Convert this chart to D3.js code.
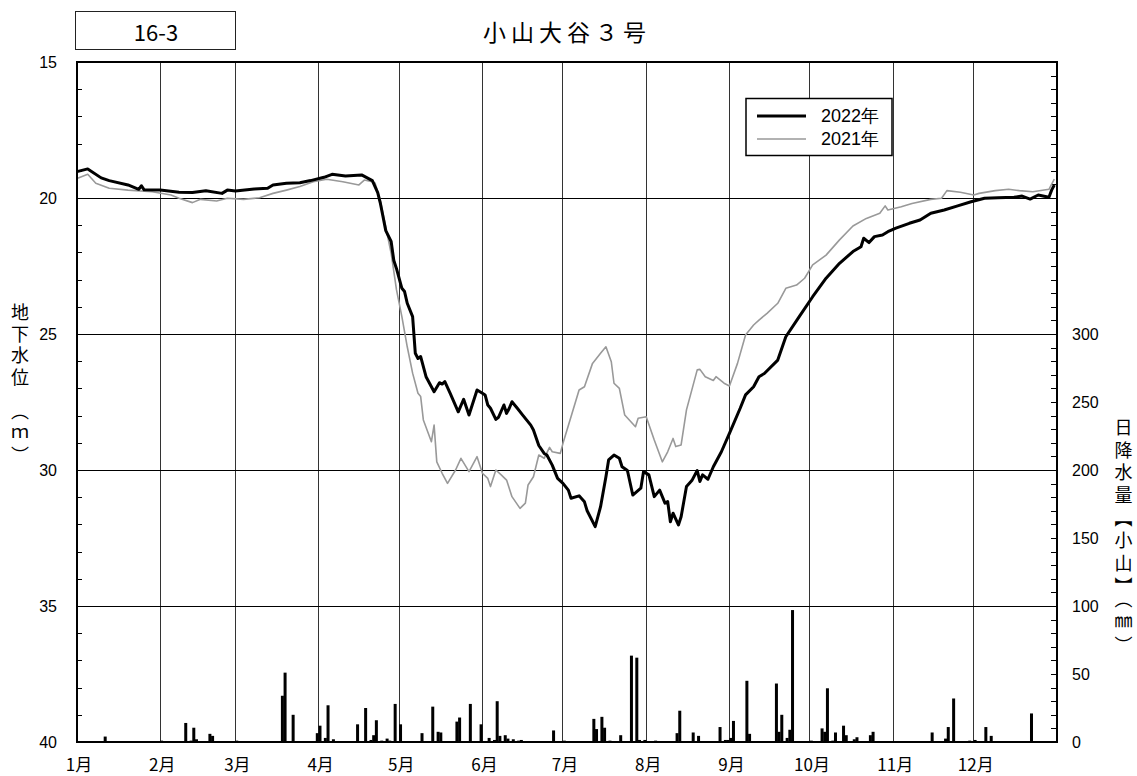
<!DOCTYPE html>
<html><head><meta charset="utf-8">
<script src="https://cdn.jsdelivr.net/npm/d3@7"></script>
<style>html,body{margin:0;padding:0;background:#fff}</style>
</head><body>
<svg id="chart" width="1137" height="776"></svg>
<script>
// ---- data ----
const monthLabels = ["1月","2月","3月","4月","5月","6月","7月","8月","9月","10月","11月","12月"];
const monthStartDays = [0,31,59,90,120,151,181,212,243,273,304,334];
const leftTicks = [15,20,25,30,35,40];
const rightTicks = [0,50,100,150,200,250,300];

// 2022 groundwater level (day of year, m below surface)
const days2022 = [0,4,9,12,19,23,24,25,31,38,43,48,54,56,59,66,71,73,78,83,87,92,95,100,106,110,112,113,114,115,117,118,119,121,122,123,125,126,127,128,130,133,135,136,137,139,142,144,146,149,151,152,153,154,156,157,159,160,161,162,164,166,169,170,172,174,175,177,179,181,183,184,187,189,190,193,195,197,198,200,202,203,205,207,210,211,213,215,217,219,220,221,222,224,225,227,229,231,232,233,235,237,240,243,247,249,252,254,256,261,264,269,274,279,284,289,292,293,295,297,300,302,305,310,314,318,323,328,333,338,343,349,352,355,358,362,363,364];
const level2022 = [19.03,18.93,19.26,19.36,19.52,19.68,19.55,19.70,19.71,19.79,19.80,19.73,19.83,19.71,19.74,19.67,19.64,19.52,19.46,19.44,19.36,19.24,19.13,19.19,19.15,19.36,19.80,20.20,20.70,21.20,21.60,22.30,22.60,23.32,23.44,23.87,24.36,25.71,25.90,25.83,26.57,27.12,26.79,26.84,26.75,27.18,27.86,27.40,27.98,27.06,27.18,27.24,27.61,27.73,28.14,28.06,27.61,27.92,27.73,27.49,27.73,27.98,28.35,28.53,29.10,29.39,29.45,29.82,30.31,30.49,30.74,31.04,30.95,31.17,31.50,32.08,31.35,30.25,29.63,29.45,29.57,29.88,30.02,30.92,30.67,30.06,30.18,30.98,30.74,31.22,31.16,31.90,31.59,32.02,31.72,30.61,30.39,30.02,30.42,30.18,30.34,29.88,29.33,28.65,27.73,27.24,26.94,26.57,26.45,25.96,25.10,24.36,23.63,22.95,22.40,21.97,21.79,21.48,21.64,21.42,21.36,21.24,21.11,20.93,20.81,20.56,20.44,20.29,20.14,20.01,19.99,19.97,19.93,20.04,19.89,19.97,19.71,19.52];

// 2021 groundwater level
const days2021 = [0,4,7,12,19,28,35,38,43,46,52,56,62,68,73,78,83,88,93,99,105,107,110,111,113,117,119,121,123,125,127,128,129,132,133,134,136,138,141,143,146,149,151,153,154,156,158,160,162,165,167,168,170,172,174,176,177,180,181,184,187,189,192,195,197,199,200,202,204,208,209,212,215,218,220,222,223,225,227,231,232,234,237,238,241,243,246,249,252,254,257,261,264,268,271,274,279,284,289,294,299,301,302,307,311,318,322,324,329,334,336,342,347,351,356,362,364];
const level2021 = [19.28,19.13,19.46,19.64,19.71,19.77,19.89,20.01,20.17,20.05,20.11,20.01,20.05,19.99,19.83,19.71,19.58,19.40,19.31,19.40,19.52,19.34,19.40,19.45,20.10,22.03,23.38,24.36,25.47,26.44,27.18,27.30,28.16,28.96,28.35,29.70,30.12,30.49,30.00,29.57,30.06,29.51,30.12,30.31,30.61,30.00,30.18,30.37,30.98,31.41,31.22,30.55,30.25,29.45,29.57,29.17,29.33,29.39,29.02,28.04,27.06,26.94,26.08,25.71,25.47,26.02,26.81,27.00,27.98,28.41,28.10,28.04,28.90,29.70,29.33,28.84,29.14,29.08,27.79,26.32,26.30,26.57,26.71,26.57,26.81,26.91,26.08,25.04,24.67,24.49,24.24,23.87,23.32,23.20,22.95,22.46,22.10,21.54,21.03,20.75,20.56,20.29,20.44,20.32,20.20,20.05,20.01,19.73,19.79,19.89,19.83,19.73,19.68,19.73,19.77,19.68,19.31];

// daily precipitation at 小山 (mm)
const rainDays = [5,10,31,40,42,43,44,48,49,50,59,76,77,80,82,89,90,92,93,95,104,107,109,110,111,113,115,116,118,120,126,128,132,134,135,141,142,146,150,153,155,156,157,159,160,162,164,165,177,181,184,187,192,193,195,196,198,202,206,208,209,211,215,223,224,229,231,239,241,242,243,244,249,250,260,261,262,264,265,266,273,277,278,279,281,282,285,286,289,290,295,296,318,323,324,326,328,330,332,334,338,340,355];
const rainMm = [0.5,4,1,14,1,10.5,2,0.5,6,4.5,1,34,51,20,0.5,6.5,12,3,27,2,13,25,1.5,5,16,1,2.5,1,28,13,0.5,6.5,26,7.5,7,15,18,28,13,3,1.5,30,4.5,5,2.5,2,1,1.5,8.5,1,0.5,0.5,17,9.5,18.5,10.5,1,5,63.5,62,1.5,1.5,1,6.5,23,7,4.5,11,1.5,1.5,3,15.5,45,6,43,7.5,20,3,9,97,1,10,7.5,39.5,1,7,12,5,2,3.5,5,7.5,7,2.5,11,32,0.5,0.5,1,1.5,11,4.5,21];

// axis titles (written vertically)
const leftTitle = "地下水位　（ｍ）";
const rightTitle = "日降水量【小山】（㎜）";

// ---- drawing ----
const svg = d3.select("#chart");
const L = 77, R = 1057, T = 62, B = 742;
const x = d3.scaleLinear().domain([0,365]).range([L,R]);
const yL = d3.scaleLinear().domain([15,40]).range([T,B]);
const yR = d3.scaleLinear().domain([0,500]).range([B,T]);
const jp = "'Noto Sans CJK JP', sans-serif";
const num = "'Liberation Sans', Arial, sans-serif";

// grid
const g = svg.append("g");
g.selectAll("line.vg").data(monthStartDays.slice(1)).join("line")
  .attr("x1", d=>x(d)).attr("x2", d=>x(d)).attr("y1",T).attr("y2",B)
  .attr("stroke","#333").attr("stroke-width",1).attr("shape-rendering","crispEdges");
g.selectAll("line.hg").data(leftTicks.slice(1,-1)).join("line")
  .attr("x1",L).attr("x2",R).attr("y1",d=>yL(d)).attr("y2",d=>yL(d))
  .attr("stroke","#000").attr("stroke-width",1).attr("shape-rendering","crispEdges");

// left minor ticks (every 1 m) inward
const leftAxis = d3.axisRight(yL).tickValues(d3.range(15,41,1)).tickSize(5).tickFormat("");
const la = svg.append("g").attr("transform",`translate(${L},0)`).call(leftAxis);
la.select(".domain").remove();
la.selectAll("line").attr("stroke","#000").attr("shape-rendering","crispEdges");

// right minor ticks (every 10 mm) inward
const rightAxis = d3.axisLeft(yR).tickValues(d3.range(0,501,10)).tickSize(6).tickFormat("");
const ra = svg.append("g").attr("transform",`translate(${R},0)`).call(rightAxis);
ra.select(".domain").remove();
ra.selectAll("line").attr("stroke","#000").attr("shape-rendering","crispEdges");

// rain bars
svg.append("g").selectAll("rect").data(rainDays.map((d,i)=>({d, v:rainMm[i]}))).join("rect")
  .attr("x", d=>x(d.d+0.5)-1.5).attr("width",3)
  .attr("y", d=>yR(d.v)).attr("height", d=>B - yR(d.v))
  .attr("fill","#000");

// lines
const line = d3.line().x(d=>x(d[0])).y(d=>yL(d[1]));
svg.append("path").datum(days2021.map((d,i)=>[d,level2021[i]]))
  .attr("d", line).attr("fill","none").attr("stroke","#999").attr("stroke-width",1.6).attr("stroke-linejoin","round");
svg.append("path").datum(days2022.map((d,i)=>[d,level2022[i]]))
  .attr("d", line).attr("fill","none").attr("stroke","#000").attr("stroke-width",3).attr("stroke-linejoin","round");

// frame
svg.append("rect").attr("x",L).attr("y",T).attr("width",R-L).attr("height",B-T)
  .attr("fill","none").attr("stroke","#000").attr("stroke-width",2);

// left tick labels
svg.append("g").selectAll("text").data(leftTicks).join("text")
  .attr("x",57).attr("y",d=>yL(d)).attr("text-anchor","end").attr("dominant-baseline","central")
  .attr("font-family",num).attr("font-size",16).text(d=>d);
// right tick labels
svg.append("g").selectAll("text").data(rightTicks).join("text")
  .attr("x",1072).attr("y",d=>yR(d)).attr("text-anchor","start").attr("dominant-baseline","central")
  .attr("font-family",num).attr("font-size",16).text(d=>d);
// month labels
svg.append("g").selectAll("text").data(monthLabels).join("text")
  .attr("x",(d,i)=>x(monthStartDays[i])+2).attr("y",763).attr("text-anchor","middle").attr("dominant-baseline","central")
  .attr("font-family",jp).attr("font-size",17).text(d=>d);

// vertical axis titles
svg.append("text").attr("x",20).attr("y",303).attr("writing-mode","vertical-rl")
  .attr("font-family",jp).attr("font-size",18).attr("letter-spacing",3.7).text(leftTitle);
svg.append("text").attr("x",1123.5).attr("y",418).attr("writing-mode","vertical-rl")
  .attr("font-family",jp).attr("font-size",18).attr("letter-spacing",4.7).text(rightTitle);

// title box
svg.append("rect").attr("x",75.5).attr("y",11.5).attr("width",160).attr("height",38)
  .attr("fill","#fff").attr("stroke","#222").attr("stroke-width",1);
svg.append("text").attr("x",156).attr("y",31).attr("text-anchor","middle").attr("dominant-baseline","central")
  .attr("font-family",jp).attr("font-size",22).text("16-3");
svg.append("text").attr("x",567).attr("y",31).attr("text-anchor","middle").attr("dominant-baseline","central")
  .attr("font-family",jp).attr("font-size",23).attr("letter-spacing",5).text("小山大谷３号");

// legend
const lg = svg.append("g");
lg.append("rect").attr("x",746).attr("y",98.5).attr("width",146).attr("height",57)
  .attr("fill","#fff").attr("stroke","#000").attr("stroke-width",1.5);
const legendItems = [{name:"2022年", color:"#000", w:3, y:116},{name:"2021年", color:"#999", w:1.6, y:139}];
legendItems.forEach(it=>{
  lg.append("line").attr("x1",757).attr("x2",806).attr("y1",it.y).attr("y2",it.y)
    .attr("stroke",it.color).attr("stroke-width",it.w);
  lg.append("text").attr("x",821).attr("y",it.y).attr("dominant-baseline","central")
    .attr("font-family",num).attr("font-size",18).text(it.name);
});
</script>
</body></html>
